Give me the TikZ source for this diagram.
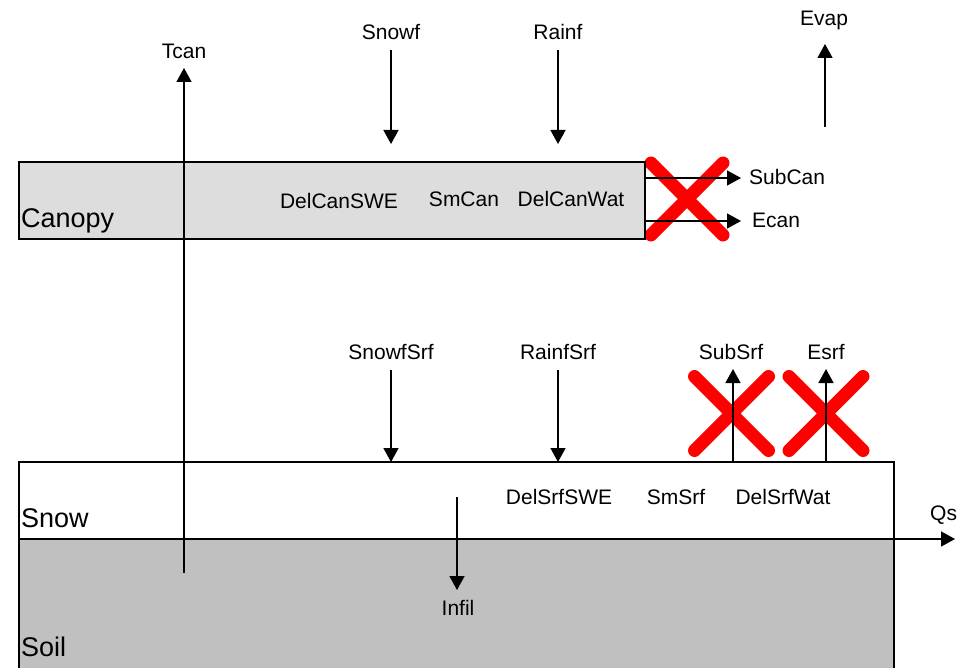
\documentclass[tikz,border=0pt]{standalone}
\usepackage{fontspec}
\setmainfont{Liberation Sans}
\usetikzlibrary{arrows.meta}
\definecolor{canfill}{HTML}{DDDDDD}
\definecolor{soilfill}{HTML}{C0C0C0}
\definecolor{xred}{HTML}{FF0000}
\begin{document}
\begin{tikzpicture}[x=1pt,y=-1pt,
  lbl/.style={font=\fontsize{21}{25}\selectfont, inner sep=0pt, anchor=base},
  lblw/.style={lbl, anchor=base west},
  biglbl/.style={font=\fontsize{27}{32}\selectfont, inner sep=0pt, anchor=base west},
  flow/.style={line width=1.5pt, -{Triangle[width=15pt,length=14pt]}},
  cross/.style={xred, line width=13pt, line cap=round},
  layer/.style={draw, line width=1.5pt, inner sep=0pt, outer sep=0pt, anchor=north west}]
\useasboundingbox (0,0) rectangle (957,668);

% red crosses (beneath the arrows)
\draw[cross] (651,163) -- (723,235) (651,235) -- (723,163);
\draw[cross] (694.5,376.5) -- (768.5,450.5) (694.5,450.5) -- (768.5,376.5);
\draw[cross] (789,376.5) -- (863,450.5) (789,450.5) -- (863,376.5);

% layers
\node[layer, fill=canfill, minimum width=626pt, minimum height=77pt] (canopy) at (19,162) {};
\node[layer, fill=soilfill, minimum width=875pt, minimum height=140pt] (soil) at (19,539) {};
\node[layer, fill=white, minimum width=875pt, minimum height=77pt] (snow) at (19,462) {};

\node[biglbl] (lcanopy) at (21,227) {Canopy};
\node[biglbl] (lsnow) at (21,527) {Snow};
\node[biglbl] (lsoil) at (21,656) {Soil};

% texts
\node[lbl] (tcan) at (184,59) {Tcan};
\node[lbl] (snowf) at (391,40) {Snowf};
\node[lbl] (rainf) at (558,40) {Rainf};
\node[lbl] (evap) at (824,26) {Evap};
\node[lbl] (delcanswe) at (339,208) {DelCanSWE};
\node[lbl] (smcan) at (464,207) {SmCan};
\node[lbl] (delcanwat) at (571,207) {DelCanWat};
\node[lblw] (subcan) at (749,185) {SubCan};
\node[lblw] (ecan) at (752,227) {Ecan};
\node[lbl] (snowfsrf) at (391,359) {SnowfSrf};
\node[lbl] (rainfsrf) at (558,359) {RainfSrf};
\node[lbl] (subsrf) at (731,359) {SubSrf};
\node[lbl] (esrf) at (826,359) {Esrf};
\node[lbl] (delsrfswe) at (559,504) {DelSrfSWE};
\node[lbl] (smsrf) at (676,504) {SmSrf};
\node[lbl] (delsrfwat) at (783,504) {DelSrfWat};
\node[lblw] (qs) at (930,520) {Qs};
\node[lbl] (infil) at (458,615) {Infil};

% arrow end points
\coordinate (tcanA) at (184,573); \coordinate (tcanB) at (184,68);
\coordinate (snowfA) at (391,50); \coordinate (snowfB) at (391,144);
\coordinate (rainfA) at (558,50); \coordinate (rainfB) at (558,144);
\coordinate (evapA) at (825,127); \coordinate (evapB) at (825,44);
\coordinate (subcanA) at (645,178); \coordinate (subcanB) at (741,178);
\coordinate (ecanA) at (645,221); \coordinate (ecanB) at (741,221);
\coordinate (snowfsrfA) at (391,370); \coordinate (snowfsrfB) at (391,462);
\coordinate (rainfsrfA) at (558,370); \coordinate (rainfsrfB) at (558,462);
\coordinate (subsrfA) at (733,462); \coordinate (subsrfB) at (733,369);
\coordinate (esrfA) at (826,462); \coordinate (esrfB) at (826,369);
\coordinate (infilA) at (457,497); \coordinate (infilB) at (457,590);
\coordinate (qsB) at (955,539);

% arrows
\draw[flow] (tcanA) -- (tcanB);
\draw[flow] (snowfA) -- (snowfB);
\draw[flow] (rainfA) -- (rainfB);
\draw[flow] (evapA) -- (evapB);
\draw[flow] (subcanA) -- (subcanB);
\draw[flow] (ecanA) -- (ecanB);
\draw[flow] (snowfsrfA) -- (snowfsrfB);
\draw[flow] (rainfsrfA) -- (rainfsrfB);
\draw[flow] (subsrfA) -- (subsrfB);
\draw[flow] (esrfA) -- (esrfB);
\draw[flow] (infilA) -- (infilB);
\draw[flow] (snow.south east) -- (qsB);
\end{tikzpicture}
\end{document}
